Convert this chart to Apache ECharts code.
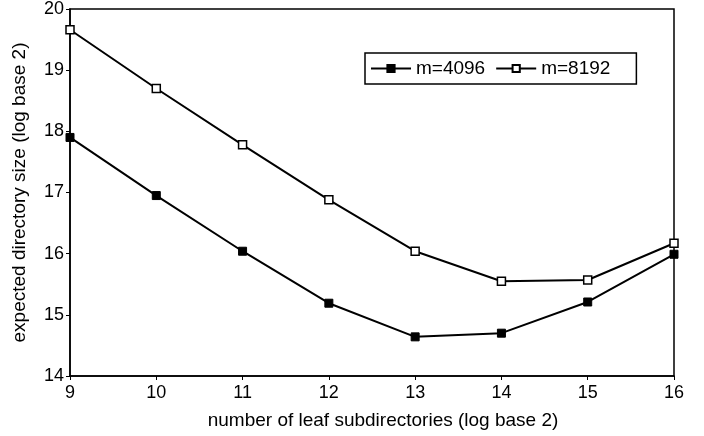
<!DOCTYPE html>
<html>
<head>
<meta charset="utf-8">
<script src="https://cdn.jsdelivr.net/npm/echarts@6/dist/echarts.min.js"></script>
<style>html,body{margin:0;padding:0;background:#fff;}#c{width:704px;height:436px;}</style>
</head>
<body>
<div id="c"></div>
<script>
var xValues = [9, 10, 11, 12, 13, 14, 15, 16];
var m4096 = [17.90, 16.95, 16.04, 15.19, 14.64, 14.70, 15.21, 15.99];
var m8192 = [19.66, 18.70, 17.78, 16.88, 16.04, 15.55, 15.57, 16.17];
var seriesNames = ['m=4096', 'm=8192'];
var xTitle = 'number of leaf subdirectories (log base 2)';
var yTitle = 'expected directory size (log base 2)';

function pairs(xs, ys){ return xs.map(function(x,i){ return [x, ys[i]]; }); }

var chart = echarts.init(document.getElementById('c'), null, {renderer:'canvas'});
var font = 'Liberation Sans, Arial, Helvetica, sans-serif';
chart.setOption({
  backgroundColor: '#fff',
  animation: false,
  textStyle: {fontFamily: font, color: '#000'},
  grid: {left: 70, right: 30, top: 8, bottom: 60, show: true, borderColor: '#000', borderWidth: 1.5},
  legend: {
    left: 365, top: 53,
    data: seriesNames,
    itemWidth: 40, itemHeight: 9, itemGap: 10,
    borderColor: '#000', borderWidth: 1.5, borderRadius: 0,
    padding: [6, 26, 6, 5],
    textStyle: {fontFamily: font, fontSize: 19, color: '#000'}
  },
  xAxis: {
    type: 'value', min: 9, max: 16, interval: 1,
    name: xTitle, nameLocation: 'middle', nameGap: 35,
    nameTextStyle: {fontFamily: font, fontSize: 19, color: '#000', padding: [0, 0, 0, 22]},
    axisLine: {show: true, lineStyle: {color: '#000', width: 1.5}},
    axisTick: {show: true, length: 4, lineStyle: {color: '#000'}},
    axisLabel: {fontFamily: font, fontSize: 18, color: '#000', margin: 8},
    splitLine: {show: false}
  },
  yAxis: {
    type: 'value', min: 14, max: 20, interval: 1,
    name: yTitle, nameLocation: 'middle', nameGap: 41,
    nameTextStyle: {fontFamily: font, fontSize: 19, color: '#000'},
    axisLine: {show: true, lineStyle: {color: '#000', width: 1.5}},
    axisTick: {show: true, length: 4, lineStyle: {color: '#000'}},
    axisLabel: {fontFamily: font, fontSize: 18, color: '#000', margin: 6},
    splitLine: {show: false}
  },
  series: [
    {
      name: seriesNames[0], type: 'line', data: pairs(xValues, m4096),
      symbol: 'rect', symbolSize: 8, showAllSymbol: true,
      lineStyle: {color: '#000', width: 2},
      itemStyle: {color: '#000', borderColor: '#000', borderWidth: 1}
    },
    {
      name: seriesNames[1], type: 'line', data: pairs(xValues, m8192),
      symbol: 'rect', symbolSize: 8, showAllSymbol: true,
      lineStyle: {color: '#000', width: 2},
      itemStyle: {color: '#fff', borderColor: '#000', borderWidth: 1.5}
    }
  ]
});
</script>
</body>
</html>
